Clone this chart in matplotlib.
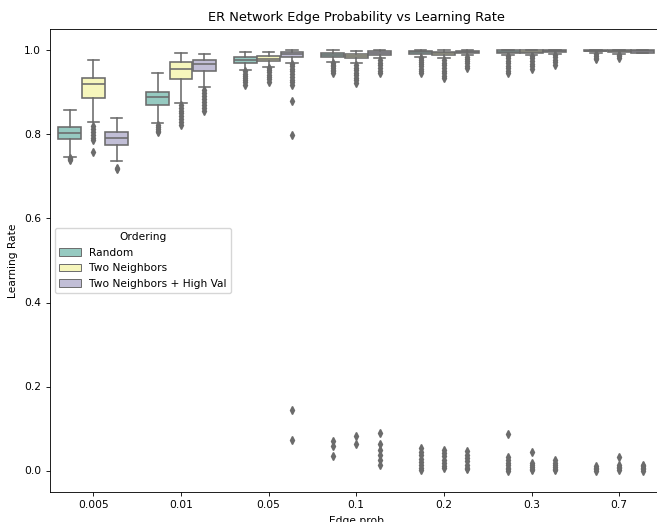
import numpy as np
import matplotlib
matplotlib.use('Agg')
import matplotlib.pyplot as plt
from matplotlib.patches import Patch
import seaborn as sns

# categories and hue levels
edge_probs = ['0.005', '0.01', '0.05', '0.1', '0.2', '0.3', '0.7']
orderings = ['Random', 'Two Neighbors', 'Two Neighbors + High Val']

# box statistics, one list per ordering
rand_med = [0.803, 0.890, 0.977, 0.989, 0.996, 0.997, 0.9995]
rand_q1 = [0.789, 0.870, 0.971, 0.984, 0.992, 0.994, 0.998]
rand_q3 = [0.819, 0.902, 0.985, 0.995, 0.999, 1.0, 1.0]
rand_lo = [0.747, 0.828, 0.954, 0.973, 0.985, 0.989, 0.993]
rand_hi = [0.858, 0.946, 0.996, 1.0, 1.0, 1.0, 1.0]
rand_fliers = [
    [0.744, 0.741, 0.739],
    [0.823, 0.818, 0.813, 0.809, 0.805],
    [0.950, 0.945, 0.940, 0.935, 0.930, 0.925, 0.918],
    [0.970, 0.966, 0.962, 0.958, 0.954, 0.950, 0.946, 0.070, 0.058, 0.034],
    [0.981, 0.977, 0.972, 0.967, 0.962, 0.957, 0.952, 0.947,
     0.054, 0.045, 0.036, 0.028, 0.020, 0.013, 0.006, 0.002],
    [0.987, 0.982, 0.976, 0.970, 0.964, 0.958, 0.952, 0.946,
     0.086, 0.031, 0.024, 0.018, 0.012, 0.007, 0.003, 0.0],
    [0.991, 0.987, 0.983, 0.979, 0.010, 0.006, 0.003, 0.0],
]

two_med = [0.920, 0.955, 0.980, 0.987, 0.993, 0.997, 0.999]
two_q1 = [0.888, 0.931, 0.976, 0.981, 0.990, 0.994, 0.997]
two_q3 = [0.934, 0.972, 0.988, 0.992, 0.996, 1.0, 1.0]
two_lo = [0.829, 0.876, 0.960, 0.970, 0.981, 0.989, 0.991]
two_hi = [0.977, 0.995, 0.997, 0.999, 1.0, 1.0, 1.0]
two_fliers = [
    [0.820, 0.812, 0.805, 0.798, 0.792, 0.786, 0.759],
    [0.870, 0.864, 0.857, 0.850, 0.843, 0.836, 0.829, 0.822],
    [0.958, 0.953, 0.948, 0.942, 0.936, 0.931, 0.926],
    [0.965, 0.959, 0.953, 0.947, 0.941, 0.935, 0.929, 0.922, 0.082, 0.062],
    [0.977, 0.971, 0.965, 0.959, 0.952, 0.946, 0.940, 0.934,
     0.050, 0.042, 0.034, 0.026, 0.018, 0.011, 0.005],
    [0.987, 0.981, 0.975, 0.969, 0.963, 0.957, 0.044, 0.019, 0.013, 0.008, 0.004, 0.001],
    [0.989, 0.986, 0.983, 0.032, 0.014, 0.009, 0.005, 0.001],
]

hv_med = [0.791, 0.967, 0.991, 0.995, 0.997, 0.998, 0.998]
hv_q1 = [0.776, 0.951, 0.985, 0.990, 0.993, 0.996, 0.995]
hv_q3 = [0.805, 0.978, 0.996, 0.999, 0.999, 1.0, 1.0]
hv_lo = [0.736, 0.914, 0.971, 0.981, 0.989, 0.991, 0.995]
hv_hi = [0.840, 0.992, 1.0, 1.0, 1.0, 1.0, 1.0]
hv_fliers = [
    [0.720, 0.717],
    [0.906, 0.899, 0.892, 0.885, 0.878, 0.871, 0.864, 0.857],
    [0.968, 0.962, 0.956, 0.950, 0.944, 0.937, 0.930, 0.924, 0.918,
     0.880, 0.799, 0.145, 0.073],
    [0.977, 0.971, 0.965, 0.959, 0.952, 0.946, 0.090, 0.064, 0.048, 0.036, 0.024, 0.012],
    [0.985, 0.980, 0.975, 0.970, 0.964, 0.958, 0.046, 0.038, 0.030, 0.022, 0.014, 0.007, 0.003],
    [0.989, 0.984, 0.978, 0.972, 0.966, 0.026, 0.019, 0.013, 0.008, 0.004, 0.001],
    [0.014, 0.010, 0.006, 0.003, 0.0],
]

groups = [
    (rand_med, rand_q1, rand_q3, rand_lo, rand_hi, rand_fliers),
    (two_med, two_q1, two_q3, two_lo, two_hi, two_fliers),
    (hv_med, hv_q1, hv_q3, hv_lo, hv_hi, hv_fliers),
]

# the reference looks like a bigger figure shrunk down, so scale text and lines
scale = 0.77
plt.rcParams['font.size'] = 10 * scale
plt.rcParams['axes.titlesize'] = 12 * scale
plt.rcParams['axes.linewidth'] = 0.8 * scale
plt.rcParams['xtick.major.size'] = 3.5 * scale
plt.rcParams['ytick.major.size'] = 3.5 * scale
plt.rcParams['xtick.major.width'] = 0.8 * scale
plt.rcParams['ytick.major.width'] = 0.8 * scale

colors = sns.color_palette('Set3', 3, desat=0.75)
gray = '#6b6b6b'
lw = 1.5 * scale

fig = plt.figure(figsize=(6.57, 5.22), dpi=100)
ax = fig.add_axes([49.5 / 657, 30.5 / 522, 613.5 / 657, 462 / 522])

n_hue = len(orderings)
slot = 0.8 / n_hue
for h, (med, q1, q3, lo, hi, fl) in enumerate(groups):
    stats = []
    for i in range(len(edge_probs)):
        stats.append(dict(med=med[i], q1=q1[i], q3=q3[i], whislo=lo[i],
                          whishi=hi[i], fliers=np.array(fl[i]), label=edge_probs[i]))
    pos = np.arange(len(edge_probs)) - 0.4 + slot * (h + 0.5)
    ax.bxp(stats, positions=pos, widths=slot * 0.98, patch_artist=True,
           manage_ticks=False,
           boxprops=dict(facecolor=colors[h], edgecolor=gray, linewidth=lw),
           medianprops=dict(color=gray, linewidth=lw),
           whiskerprops=dict(color=gray, linewidth=lw),
           capprops=dict(color=gray, linewidth=lw),
           flierprops=dict(marker='d', markerfacecolor=gray, markeredgecolor=gray,
                           markersize=5 * scale, linestyle='none'))

ax.set_xticks(range(len(edge_probs)))
ax.set_xticklabels(edge_probs)
ax.set_xlim(-0.5, len(edge_probs) - 0.5)
ax.set_ylim(-0.05, 1.05)
ax.set_yticks([0.0, 0.2, 0.4, 0.6, 0.8, 1.0])
ax.set_xlabel('Edge prob')
ax.set_ylabel('Learning Rate')
ax.set_title('ER Network Edge Probability vs Learning Rate')

handles = [Patch(facecolor=colors[h], edgecolor=gray, linewidth=lw * 0.6, label=orderings[h])
           for h in range(n_hue)]
ax.legend(handles=handles, title='Ordering', loc='center left')

fig.savefig('out.png', dpi=100)
